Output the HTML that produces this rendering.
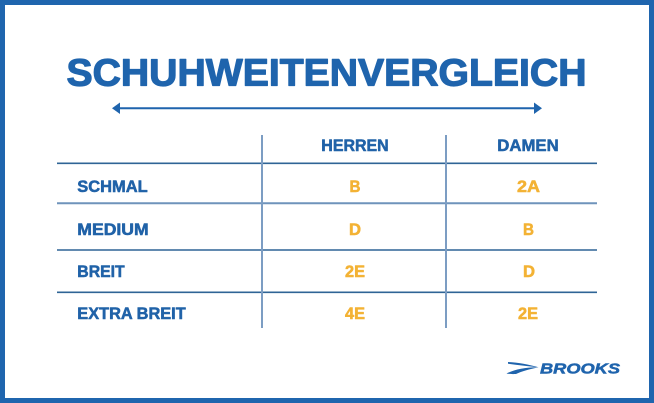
<!DOCTYPE html>
<html><head><meta charset="utf-8"><style>
html,body{margin:0;padding:0;background:#fff;}
body{width:654px;height:403px;overflow:hidden;}
svg{display:block;}
</style></head><body>
<svg width="654" height="403" viewBox="0 0 654 403" xmlns="http://www.w3.org/2000/svg">
<rect x="0" y="0" width="654" height="403" fill="#ffffff"/>
<rect x="2.5" y="2.5" width="649" height="398" fill="none" stroke="#1f65ae" stroke-width="5"/>
<g font-family="Liberation Sans, sans-serif" font-weight="bold">
<text x="66.5" y="85.5" font-size="38" fill="#1f64ad" stroke="#1f64ad" stroke-width="1.2" stroke-linejoin="round" textLength="520" lengthAdjust="spacingAndGlyphs">SCHUHWEITENVERGLEICH</text>
</g>
<!-- arrow -->
<line x1="118" y1="108.3" x2="536" y2="108.3" stroke="#1f64ad" stroke-width="2"/>
<polygon points="112,108.3 120,102.5 120,114" fill="#1f64ad"/>
<polygon points="542,108.3 534,102.5 534,114" fill="#1f64ad"/>
<!-- table lines -->
<g stroke-width="1.6">
<line x1="57" y1="163.3" x2="597" y2="163.3" stroke="#2f6496"/>
<line x1="57" y1="203.3" x2="597" y2="203.3" stroke="#6f93bb" stroke-width="2"/>
<line x1="57" y1="250" x2="597" y2="250" stroke="#2f6496"/>
<line x1="57" y1="292.3" x2="597" y2="292.3" stroke="#2f6496"/>
<line x1="262" y1="135" x2="262" y2="328" stroke="#7c9dc3" stroke-width="2"/>
<line x1="446" y1="135" x2="446" y2="328" stroke="#7c9dc3" stroke-width="2"/>
</g>
<g font-family="Liberation Sans, sans-serif" font-weight="bold" font-size="16.5" fill="#2062a8" stroke="#2062a8" stroke-width="0.55" stroke-linejoin="round">
<text x="321.3" y="151" textLength="67.4" lengthAdjust="spacingAndGlyphs">HERREN</text>
<text x="497.3" y="151" textLength="61.4" lengthAdjust="spacingAndGlyphs">DAMEN</text>
<text x="77.3" y="192" textLength="70.4" lengthAdjust="spacingAndGlyphs">SCHMAL</text>
<text x="77.3" y="235" textLength="71.4" lengthAdjust="spacingAndGlyphs">MEDIUM</text>
<text x="77.3" y="277" textLength="47.4" lengthAdjust="spacingAndGlyphs">BREIT</text>
<text x="77.3" y="319" textLength="108.4" lengthAdjust="spacingAndGlyphs">EXTRA BREIT</text>
</g>
<g font-family="Liberation Sans, sans-serif" font-weight="bold" font-size="16.5" fill="#f3b234" stroke="#f3b234" stroke-width="0.55" stroke-linejoin="round">
<text x="349.5" y="192" textLength="11" lengthAdjust="spacingAndGlyphs">B</text>
<text x="517" y="192" textLength="23" lengthAdjust="spacingAndGlyphs">2A</text>
<text x="349" y="235" textLength="12" lengthAdjust="spacingAndGlyphs">D</text>
<text x="523" y="235" textLength="11" lengthAdjust="spacingAndGlyphs">B</text>
<text x="345" y="277" textLength="20" lengthAdjust="spacingAndGlyphs">2E</text>
<text x="523" y="277" textLength="12" lengthAdjust="spacingAndGlyphs">D</text>
<text x="345" y="319" textLength="20" lengthAdjust="spacingAndGlyphs">4E</text>
<text x="518" y="319" textLength="20" lengthAdjust="spacingAndGlyphs">2E</text>
</g>
<!-- Brooks logo -->
<g fill="#1f64ad">
<path d="M508,362 C518,362.5 529,364.5 538.5,367.2 C528,366.5 518,365 508,363.8 Z"/>
<path d="M506.5,373.5 C514,369.5 526,367 538.5,367.2 C530,369 521,371.5 516,374 C512,374.2 509,374 506.5,373.5 Z"/>
</g>
<text x="540" y="373.5" font-family="Liberation Sans, sans-serif" font-weight="bold" font-style="italic" font-size="14.5" fill="#1f64ad" stroke="#1f64ad" stroke-width="0.5" textLength="80" lengthAdjust="spacingAndGlyphs">BROOKS</text>
</svg>
</body></html>
